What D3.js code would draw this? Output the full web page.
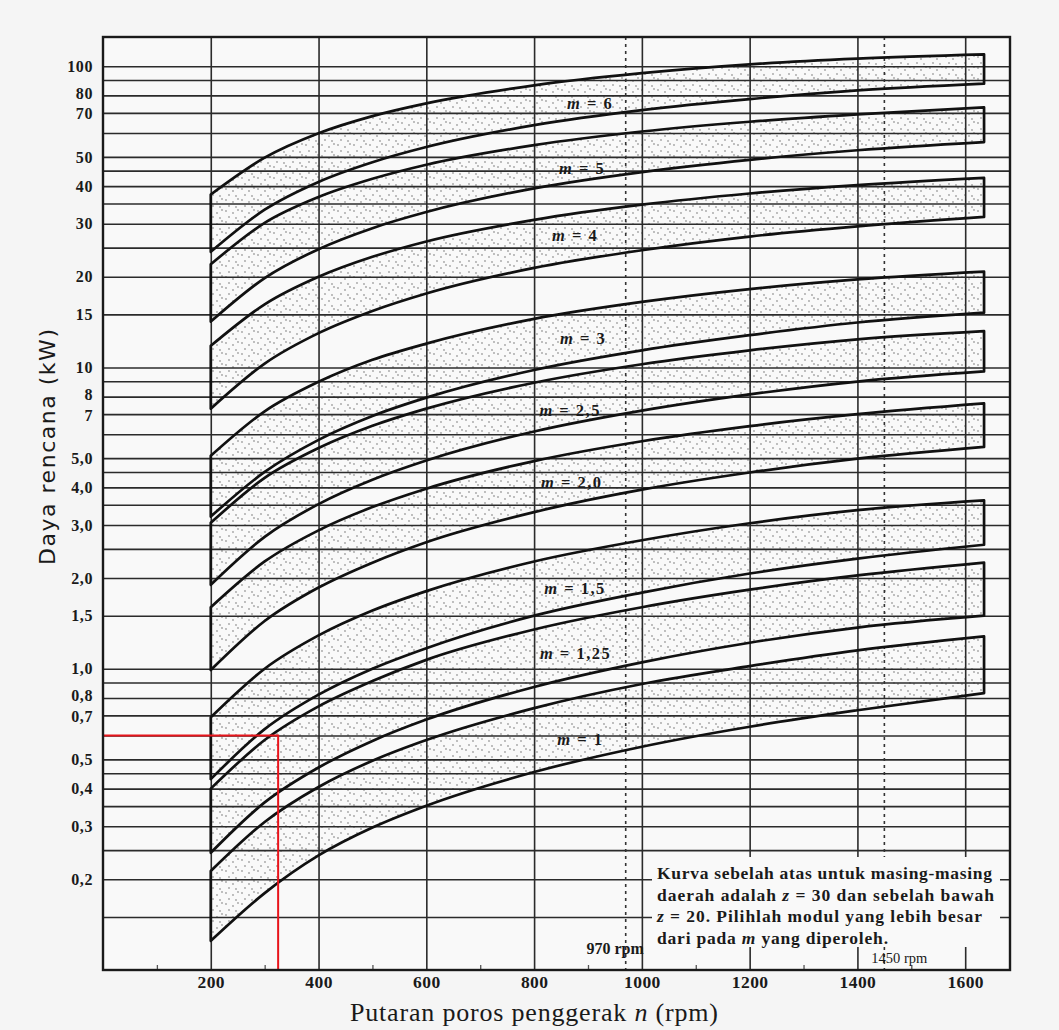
<!DOCTYPE html>
<html>
<head>
<meta charset="utf-8">
<script src="https://cdn.jsdelivr.net/npm/d3@7"></script>
<style>
  html, body { margin:0; padding:0; background:#f5f5f5; }
  svg { display:block; }
</style>
</head>
<body>
<svg id="chart" width="1059" height="1030"></svg>
<script>
// ---------------- DATA ----------------
const rpm = [200, 300, 400, 500, 600, 800, 1000, 1200, 1400, 1635];

const modules = ["6", "5", "4", "3", "2,5", "2,0", "1,5", "1,25", "1"];

// upper curve of each band: z = 30
const upper6   = [37.5, 49.7, 59.9, 68.3, 75.3, 86.4, 94.8, 101.4, 106, 109.5];
const upper5   = [22.0, 30.2, 36.8, 42.3, 47.1, 54.7, 60.7, 65.4, 69.2, 73];
const upper4   = [11.8, 16.2, 20.0, 23.3, 26.2, 30.9, 34.7, 37.8, 40.3, 42.6];
const upper3   = [5.09, 7.15, 8.96, 10.6, 12.0, 14.5, 16.5, 18.2, 19.6, 20.8];
const upper2_5 = [3.05, 4.3, 5.4, 6.4, 7.3, 8.9, 10.25, 11.4, 12.4, 13.2];
const upper2   = [1.6, 2.27, 2.88, 3.44, 3.96, 4.89, 5.69, 6.39, 7.0, 7.6];
const upper1_5 = [0.69, 1.0, 1.29, 1.56, 1.81, 2.27, 2.67, 3.04, 3.36, 3.62];
const upper1_25= [0.40, 0.58, 0.75, 0.91, 1.07, 1.35, 1.6, 1.83, 2.04, 2.25];
const upper1   = [0.213, 0.31, 0.405, 0.495, 0.58, 0.74, 0.89, 1.02, 1.15, 1.28];

// lower curve of each band: z = 20
const lower6   = [24.2, 33.4, 41.3, 48.0, 53.9, 63.7, 71.5, 77.8, 83.1, 87.5];
const lower5   = [14.2, 19.8, 24.7, 29.0, 32.8, 39.3, 44.5, 48.9, 52.6, 56];
const lower4   = [7.3, 10.3, 13.0, 15.4, 17.6, 21.4, 24.5, 27.2, 29.4, 31.6];
const lower3   = [3.2, 4.5, 5.75, 6.9, 7.94, 9.81, 11.4, 12.8, 14.1, 15.2];
const lower2_5 = [1.9, 2.74, 3.52, 4.24, 4.91, 6.13, 7.19, 8.14, 8.98, 9.7];
const lower2   = [0.99, 1.44, 1.86, 2.25, 2.63, 3.31, 3.93, 4.48, 4.98, 5.45];
const lower1_5 = [0.43, 0.63, 0.82, 1.0, 1.17, 1.5, 1.79, 2.07, 2.32, 2.58];
const lower1_25= [0.245, 0.36, 0.47, 0.576, 0.678, 0.87, 1.05, 1.22, 1.37, 1.5];
const lower1   = [0.125, 0.18, 0.24, 0.297, 0.351, 0.454, 0.551, 0.642, 0.728, 0.83];

// label anchor for each band (rpm, kW)
const labelRpm = [904, 889, 876, 891, 867, 870, 876, 877, 886];
const labelKw  = [75.6, 46, 27.5, 12.5, 7.2, 4.18, 1.86, 1.13, 0.585];

const gridKw = [0.15,0.2,0.25,0.3,0.35,0.4,0.45,0.5,0.6,0.7,0.8,0.9,1,1.5,2,2.5,3,3.5,4,4.5,5,6,7,8,9,10,15,20,25,30,35,40,45,50,60,70,80,90,100];
const yTickVals   = [100,80,70,50,40,30,20,15,10,8,7,5,4,3,2,1.5,1,0.8,0.7,0.5,0.4,0.3,0.2];
const yTickLabels = ["100","80","70","50","40","30","20","15","10","8","7","5,0","4,0","3,0","2,0","1,5","1,0","0,8","0,7","0,5","0,4","0,3","0,2"];
const xTickVals   = [200,400,600,800,1000,1200,1400,1600];
const xMinorVals  = [100,300,500,700,900,1100,1300,1500];
const dashedRpm   = [970, 1450];
const dashedLabels= ["970 rpm", "1450 rpm"];
const redPoint    = {rpm: 325, kw: 0.6};

const noteLines = [
  ["Kurva sebelah atas untuk masing-masing"],
  ["daerah adalah ", ["z"], " = 30 dan sebelah bawah"],
  [["z"], " = 20. Pilihlah modul yang lebih besar"],
  ["dari pada ", ["m"], " yang diperoleh."]
];
const noteWidths = [335, 337, 325, 231];

// ---------------- CHART ----------------
(function draw() {
const upperAll = [upper6, upper5, upper4, upper3, upper2_5, upper2, upper1_5, upper1_25, upper1];
const lowerAll = [lower6, lower5, lower4, lower3, lower2_5, lower2, lower1_5, lower1_25, lower1];

const svg = d3.select("#chart");
const pLeft = 103, pRight = 1010, pTop = 37, pBottom = 970;
const x = d3.scaleLinear().domain([0, 1685]).range([pLeft, 1011]);
const y = d3.scaleLog().domain([0.1, 125]).range([pBottom, pTop]);

const serif = "'Liberation Serif', 'DejaVu Serif', serif";
const ink = "#1a1a1a";
const bg = "#f9f9f9";

// pattern of stipple dots
const defs = svg.append("defs");
const pat = defs.append("pattern").attr("id", "dots")
  .attr("patternUnits", "userSpaceOnUse").attr("width", 16).attr("height", 11);
[[2,2],[9,4],[14,1],[5,8],[12,9]].forEach(p => {
  pat.append("circle").attr("cx", p[0]).attr("cy", p[1]).attr("r", 0.9).attr("fill", "#a3a3a3");
});

// plot background
svg.append("rect").attr("x", pLeft).attr("y", pTop).attr("width", pRight-pLeft).attr("height", pBottom-pTop)
  .attr("fill", bg);

// bands fill
const area = d3.area()
  .x((d) => x(d.n))
  .y0((d) => y(d.lo))
  .y1((d) => y(d.hi))
  .curve(d3.curveMonotoneX);

const bands = upperAll.map((up, i) => rpm.map((n, j) => ({n, hi: up[j], lo: lowerAll[i][j]})));

svg.append("g").selectAll("path").data(bands).join("path")
  .attr("d", area).attr("fill", "url(#dots)").attr("stroke", "none");

// horizontal grid
svg.append("g").attr("transform", `translate(${pLeft},0)`)
  .call(d3.axisLeft(y).tickValues(gridKw).tickSize(-(pRight-pLeft)).tickFormat(""))
  .call(g => g.select(".domain").remove())
  .call(g => g.selectAll(".tick line").attr("stroke", "#2b2b2b").attr("stroke-width", 1.6));

// vertical grid
svg.append("g").attr("transform", `translate(0,${pBottom})`)
  .call(d3.axisBottom(x).tickValues(xTickVals).tickSize(-(pBottom-pTop)).tickFormat(""))
  .call(g => g.select(".domain").remove())
  .call(g => g.selectAll(".tick line").attr("stroke", "#2b2b2b").attr("stroke-width", 1.6));

// minor ticks
svg.append("g").attr("transform", `translate(0,${pBottom})`)
  .call(d3.axisBottom(x).tickValues(xMinorVals).tickSize(-5).tickFormat(""))
  .call(g => g.select(".domain").remove())
  .call(g => g.selectAll(".tick line").attr("stroke", "#555").attr("stroke-width", 1.3));

// dashed verticals
svg.append("g").selectAll("line").data(dashedRpm).join("line")
  .attr("x1", d => x(d)).attr("x2", d => x(d))
  .attr("y1", pTop).attr("y2", pBottom)
  .attr("stroke", "#333").attr("stroke-width", 1.6).attr("stroke-dasharray", "3,4");

// band outlines
svg.append("g").selectAll("path").data(bands).join("path")
  .attr("d", area).attr("fill", "none").attr("stroke", "#111")
  .attr("stroke-width", 2.7).attr("stroke-linejoin", "round");

// note box
const boxX = 652, boxY = 857;
svg.append("rect").attr("x", boxX).attr("y", boxY).attr("width", 1000-boxX).attr("height", 90)
  .attr("fill", bg);
noteLines.forEach((line, i) => {
  const t = svg.append("text").attr("x", 657).attr("y", 879 + i*21.7)
    .attr("font-family", serif).attr("font-size", 17.5).attr("font-weight", "bold").attr("fill", ink)
    .attr("textLength", noteWidths[i]).attr("lengthAdjust", "spacing");
  line.forEach(part => {
    if (Array.isArray(part)) t.append("tspan").attr("font-style", "italic").text(part[0]);
    else t.append("tspan").text(part);
  });
});

// dashed labels
svg.append("text").attr("x", x(dashedRpm[0]) + 18).attr("y", 954).attr("text-anchor", "end")
  .attr("font-family", serif).attr("font-size", 16).attr("font-weight", "bold").attr("fill", ink)
  .text(dashedLabels[0]);
svg.append("text").attr("x", x(dashedRpm[1]) + 15).attr("y", 963).attr("text-anchor", "middle")
  .attr("font-family", serif).attr("font-size", 14.5).attr("fill", ink)
  .text(dashedLabels[1]);

// band labels
modules.forEach((m, i) => {
  const t = svg.append("text").attr("x", x(labelRpm[i])).attr("y", y(labelKw[i]))
    .attr("text-anchor", "middle").attr("dominant-baseline", "central")
    .attr("font-family", serif).attr("font-size", 16.5).attr("font-weight", "bold")
    .attr("letter-spacing", 1.5).attr("fill", ink);
  t.append("tspan").attr("font-style", "italic").text("m");
  t.append("tspan").text(" = " + m);
});

// red guide lines
svg.append("path")
  .attr("d", `M${pLeft},${y(redPoint.kw)}H${x(redPoint.rpm)}V${pBottom}`)
  .attr("fill", "none").attr("stroke", "#e8141b").attr("stroke-width", 2);

// frame
svg.append("rect").attr("x", pLeft).attr("y", pTop).attr("width", pRight-pLeft).attr("height", pBottom-pTop)
  .attr("fill", "none").attr("stroke", "#1a1a1a").attr("stroke-width", 2.4);

// y tick labels (crowded pairs nudged apart, as in the reference)
const nudge = {"80": -2.5, "8": -2.5, "0,8": -2.5, "70": 1, "7": 1, "0,7": 1};
svg.append("g").attr("transform", `translate(${pLeft},0)`)
  .call(d3.axisLeft(y).tickValues(yTickVals).tickSize(0).tickPadding(10)
    .tickFormat((d, i) => yTickLabels[i]))
  .call(g => g.select(".domain").remove())
  .call(g => g.selectAll("text").attr("font-family", serif).attr("font-size", 16)
    .attr("font-weight", "bold").attr("letter-spacing", 0.6).attr("fill", ink)
    .attr("y", function() { return nudge[this.textContent] || 0; }));

// x tick labels
svg.append("g").attr("transform", `translate(0,${pBottom})`)
  .call(d3.axisBottom(x).tickValues(xTickVals).tickSize(0).tickPadding(6).tickFormat(d => String(d)))
  .call(g => g.select(".domain").remove())
  .call(g => g.selectAll("text").attr("font-family", serif).attr("font-size", 17.5)
    .attr("font-weight", "bold").attr("letter-spacing", 0.4).attr("fill", ink));

// axis titles
const xt = svg.append("text").attr("x", 534).attr("y", 1021).attr("text-anchor", "middle")
  .attr("font-family", serif).attr("font-size", 26).attr("fill", ink)
  .attr("textLength", 368).attr("lengthAdjust", "spacing");
xt.append("tspan").text("Putaran poros penggerak ");
xt.append("tspan").attr("font-style", "italic").text("n");
xt.append("tspan").text(" (rpm)");

svg.append("text").attr("transform", "translate(55,447) rotate(-90)").attr("text-anchor", "middle")
  .attr("font-family", "'DejaVu Sans', 'Liberation Sans', sans-serif").attr("font-size", 22)
  .attr("textLength", 236).attr("lengthAdjust", "spacing")
  .attr("fill", ink).text("Daya rencana (kW)");
})();
</script>
</body>
</html>
